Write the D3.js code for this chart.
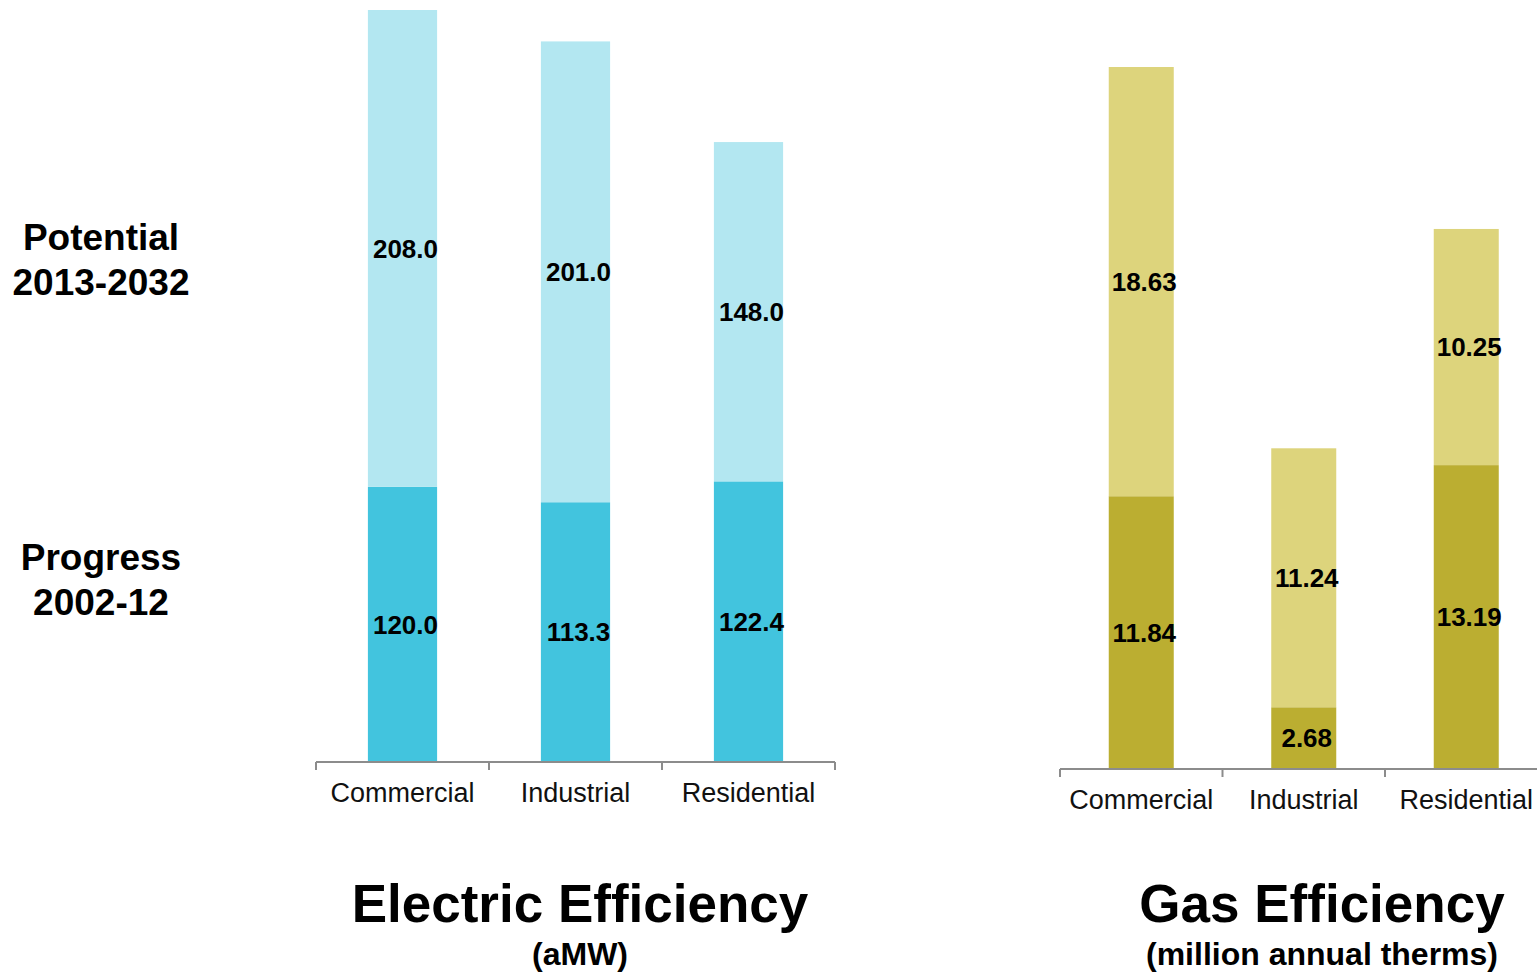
<!DOCTYPE html>
<html>
<head>
<meta charset="utf-8">
<script src="https://cdn.jsdelivr.net/npm/d3@7"></script>
<style>
  html, body { margin: 0; padding: 0; background: #fff; }
  svg { display: block; font-family: "Liberation Sans", Arial, Helvetica, sans-serif; }
</style>
</head>
<body>
<svg id="chart" width="1537" height="972"></svg>
<script>
// Sector categories shared by both panels
const categories = ["Commercial", "Industrial", "Residential"];

// Electric efficiency (aMW)
const electricProgress = [120.0, 113.3, 122.4];
const electricPotential = [208.0, 201.0, 148.0];

// Gas efficiency (million annual therms)
const gasProgress = [11.84, 2.68, 13.19];
const gasPotential = [18.63, 11.24, 10.25];

const svg = d3.select("#chart");

function drawPanel(cfg) {
  const g = svg.append("g");
  const x = d3.scaleBand()
    .domain(categories)
    .range([cfg.x0, cfg.x1])
    .paddingInner(0.6)
    .paddingOuter(0.3);
  const y = d3.scaleLinear()
    .domain([0, cfg.yMax])
    .range([cfg.base, cfg.top]);

  const rows = categories.map((c, i) => ({
    cat: c,
    progress: cfg.progress[i],
    potential: cfg.potential[i]
  }));
  const stacked = d3.stack().keys(["progress", "potential"])(rows);
  const fills = { progress: cfg.dark, potential: cfg.light };
  const fmt = cfg.fmt;

  const layer = g.selectAll("g.layer").data(stacked).join("g")
    .attr("class", "layer")
    .attr("fill", d => fills[d.key]);

  layer.selectAll("rect").data(d => d).join("rect")
    .attr("x", d => x(d.data.cat))
    .attr("width", x.bandwidth())
    .attr("y", d => y(d[1]))
    .attr("height", d => y(d[0]) - y(d[1]));

  // value labels centred in each segment
  stacked.forEach(s => {
    g.selectAll(null).data(s).join("text")
      .attr("x", d => x(d.data.cat) + x.bandwidth() / 2 + 3)
      .attr("y", d => (y(d[0]) + y(d[1])) / 2)
      .attr("dy", "0.36em")
      .attr("text-anchor", "middle")
      .attr("font-size", 26)
      .attr("font-weight", "bold")
      .attr("fill", "#000")
      .text(d => fmt(d[1] - d[0]));
  });

  // category axis: baseline with ticks on band boundaries
  const axis = g.append("g").attr("transform", `translate(0,${cfg.base})`);
  axis.append("line")
    .attr("x1", cfg.x0).attr("x2", cfg.axisEnd)
    .attr("stroke", "#8c8c8c").attr("stroke-width", 2);
  const bounds = d3.range(categories.length + 1).map(i => cfg.x0 + i * x.step());
  axis.selectAll("line.tick").data(bounds).join("line")
    .attr("class", "tick")
    .attr("x1", d => d).attr("x2", d => d)
    .attr("y1", 0).attr("y2", 8)
    .attr("stroke", "#8c8c8c").attr("stroke-width", 2);
  axis.selectAll("text.cat").data(categories).join("text")
    .attr("class", "cat")
    .attr("x", d => x(d) + x.bandwidth() / 2)
    .attr("y", 40)
    .attr("text-anchor", "middle")
    .attr("font-size", 27)
    .attr("fill", "#111")
    .text(d => d);

  // panel title and unit
  const cx = cfg.titleX;
  g.append("text")
    .attr("x", cx).attr("y", 922)
    .attr("text-anchor", "middle")
    .attr("font-size", 53).attr("font-weight", "bold")
    .text(cfg.title);
  g.append("text")
    .attr("x", cx).attr("y", 965)
    .attr("text-anchor", "middle")
    .attr("font-size", 32).attr("font-weight", "bold")
    .text(cfg.unit);
}

drawPanel({
  x0: 316, x1: 835, axisEnd: 835,
  base: 762, top: 10, yMax: 328,
  progress: electricProgress, potential: electricPotential,
  dark: "#42c4de", light: "#b3e7f1",
  fmt: d3.format(".1f"),
  title: "Electric Efficiency", unit: "(aMW)", titleX: 580
});

drawPanel({
  x0: 1060, x1: 1547.5, axisEnd: 1537,
  base: 769, top: 67, yMax: 30.47,
  progress: gasProgress, potential: gasPotential,
  dark: "#bbae31", light: "#ddd47c",
  fmt: d3.format(".2f"),
  title: "Gas Efficiency", unit: "(million annual therms)", titleX: 1322
});

// series labels on the left
const seriesLabels = [
  { lines: ["Potential", "2013-2032"], y: 237 },
  { lines: ["Progress", "2002-12"], y: 557 }
];
seriesLabels.forEach(s => {
  s.lines.forEach((t, i) => {
    svg.append("text")
      .attr("x", 101).attr("y", s.y + i * 45)
      .attr("dy", "0.36em")
      .attr("text-anchor", "middle")
      .attr("font-size", 37).attr("font-weight", "bold")
      .text(t);
  });
});
</script>
</body>
</html>
